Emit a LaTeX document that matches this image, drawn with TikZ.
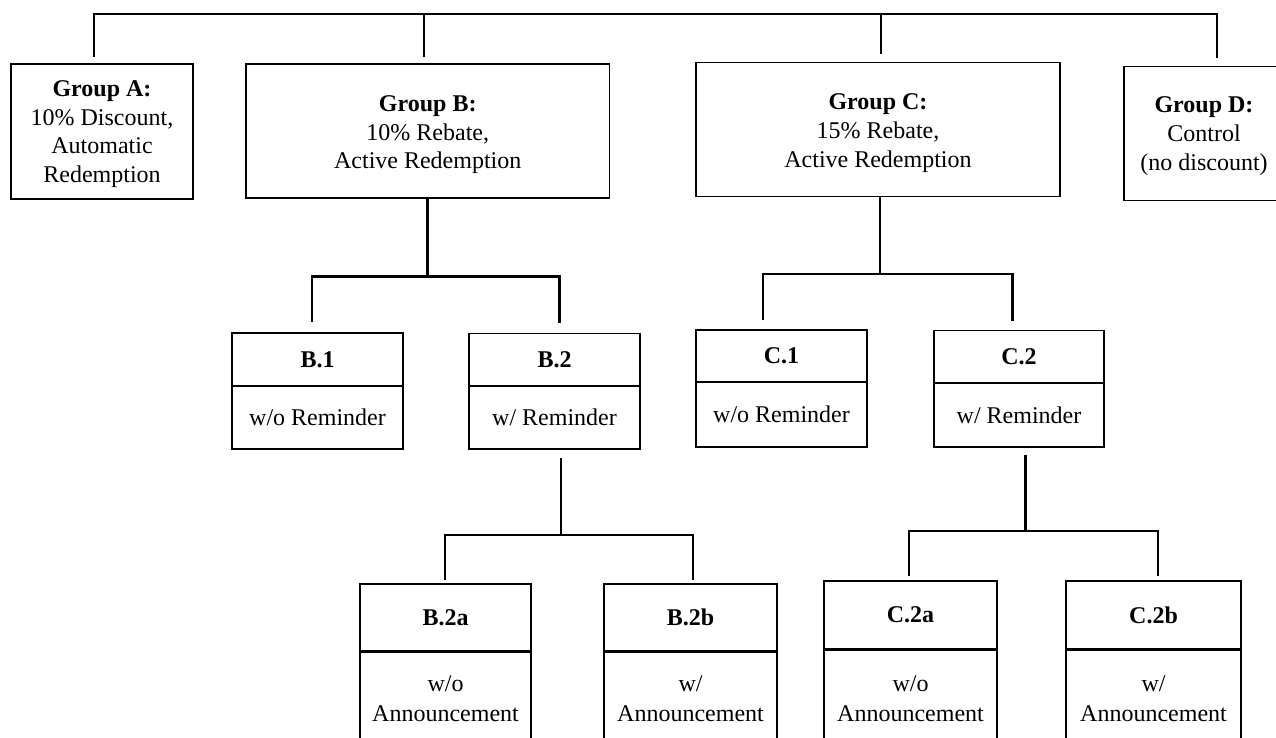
\documentclass[tikz,border=0pt]{standalone}
\usepackage{fontspec}
\setmainfont{Liberation Serif}
\begin{document}
\begin{tikzpicture}[x=1pt,y=-1pt,
  box/.style={draw=black, line width=1.5pt, inner sep=0pt, align=center,
    font=\fontsize{24}{28}\selectfont},
  gtext/.style={inner sep=0pt, align=center, font=\fontsize{24}{28.6}\selectfont},
  titlebox/.style={box, font=\fontsize{24}{28}\selectfont\bfseries},
  annbox/.style={box, font=\fontsize{24}{30}\selectfont},
  conn/.style={draw=black, line width=2.2pt, line join=miter}
]
\useasboundingbox (0,0) rectangle (1276,738);
\clip (0,0) rectangle (1276,738);

% Top level groups
\node[box, minimum width=182pt, minimum height=135pt] (GA) at (102,131.5) {};
\node[box, minimum width=363.5pt, minimum height=134pt] (GB) at (427.75,131) {};
\node[box, minimum width=364pt, minimum height=134pt] (GC) at (878,129.7) {};
\node[box, minimum width=160pt, minimum height=134pt] (GD) at (1204,133.7) {};
\node[gtext] (GAl) at ([yshift=-2.5pt]GA.center)
  {\textbf{Group A:}\\10\% Discount,\\Automatic\\Redemption};
\node[gtext] (GBl) at ([yshift=-4pt]GB.center)
  {\textbf{Group B:}\\10\% Rebate,\\Active Redemption};
\node[gtext] (GCl) at ([yshift=-3.5pt]GC.center)
  {\textbf{Group C:}\\15\% Rebate,\\Active Redemption};
\node[gtext] (GDl) at ([yshift=-2.5pt]GD.center)
  {\textbf{Group D:}\\Control\\(no discount)};

% Second level
\node[titlebox, minimum width=171pt, minimum height=53pt] (B1t) at (317.5,359.5) {B.1};
\node[box, minimum width=171pt, minimum height=63pt] (B1b) at (317.5,417.5) {w/o Reminder};
\node[titlebox, minimum width=171pt, minimum height=52.3pt] (B2t) at (554.5,359.85) {B.2};
\node[box, minimum width=171pt, minimum height=63pt] (B2b) at (554.5,417.5) {w/ Reminder};
\node[titlebox, minimum width=171pt, minimum height=52pt] (C1t) at (781.5,356) {C.1};
\node[box, minimum width=171pt, minimum height=65pt] (C1b) at (781.5,414.5) {w/o Reminder};
\node[titlebox, minimum width=170pt, minimum height=52.3pt] (C2t) at (1019,356.85) {C.2};
\node[box, minimum width=170pt, minimum height=64pt] (C2b) at (1019,415) {w/ Reminder};

% Third level
\node[titlebox, minimum width=171pt, minimum height=67pt] (B2at) at (445.5,617.5) {B.2a};
\node[annbox, minimum width=171pt, minimum height=93.2pt] (B2ab) at (445.5,698.6) {w/o\\Announcement};
\node[titlebox, minimum width=173pt, minimum height=67pt] (B2bt) at (690.5,617.5) {B.2b};
\node[annbox, minimum width=173pt, minimum height=93.2pt] (B2bb) at (690.5,698.6) {w/\\Announcement};
\node[titlebox, minimum width=173pt, minimum height=68pt] (C2at) at (910.5,615) {C.2a};
\node[annbox, minimum width=173pt, minimum height=97.2pt] (C2ab) at (910.5,698.6) {w/o\\Announcement};
\node[titlebox, minimum width=175pt, minimum height=68pt] (C2bt) at (1153.5,615) {C.2b};
\node[annbox, minimum width=175pt, minimum height=97.2pt] (C2bb) at (1153.5,698.6) {w/\\Announcement};

% Junction coordinates
\coordinate (jA) at (94,14);
\coordinate (jB) at (424,14);
\coordinate (jC) at (881,14);
\coordinate (jD) at (1217,14);
\coordinate (kB) at (427.5,276.5);
\coordinate (kB1) at (312,276.5);
\coordinate (kB2) at (559.5,276.5);
\coordinate (kC) at (880,274);
\coordinate (kC1) at (763,274);
\coordinate (kC2) at (1012.5,274);
\coordinate (kB2d) at (561,535);
\coordinate (kB2a) at (445,535);
\coordinate (kB2b) at (693,535);
\coordinate (kC2d) at (1025.5,531);
\coordinate (kC2a) at (909,531);
\coordinate (kC2b) at (1158,531);

% Top connectors
\draw[conn, shorten <=6pt, shorten >=8pt] (GA.north -| jA) -- (jA) -- (jD) -- (GD.north -| jD);
\draw[conn, shorten >=6pt] (jB) -- (GB.north -| jB);
\draw[conn, shorten >=8pt] (jC) -- (GC.north -| jC);

% Group B branches
\draw[conn] (GB.south -| kB) -- (kB);
\draw[conn, shorten <=10pt, shorten >=10pt] (B1t.north -| kB1) -- (kB1) -- (kB2) -- (B2t.north -| kB2);
% Group C branches
\draw[conn] (GC.south -| kC) -- (kC);
\draw[conn, shorten <=9pt, shorten >=9pt] (C1t.north -| kC1) -- (kC1) -- (kC2) -- (C2t.north -| kC2);
% B.2 branches
\draw[conn, shorten <=8pt] (B2b.south -| kB2d) -- (kB2d);
\draw[conn, shorten <=3pt, shorten >=3pt] (B2at.north -| kB2a) -- (kB2a) -- (kB2b) -- (B2bt.north -| kB2b);
% C.2 branches
\draw[conn, shorten <=7pt] (C2b.south -| kC2d) -- (kC2d);
\draw[conn, shorten <=4pt, shorten >=4pt] (C2at.north -| kC2a) -- (kC2a) -- (kC2b) -- (C2bt.north -| kC2b);
\end{tikzpicture}
\end{document}
